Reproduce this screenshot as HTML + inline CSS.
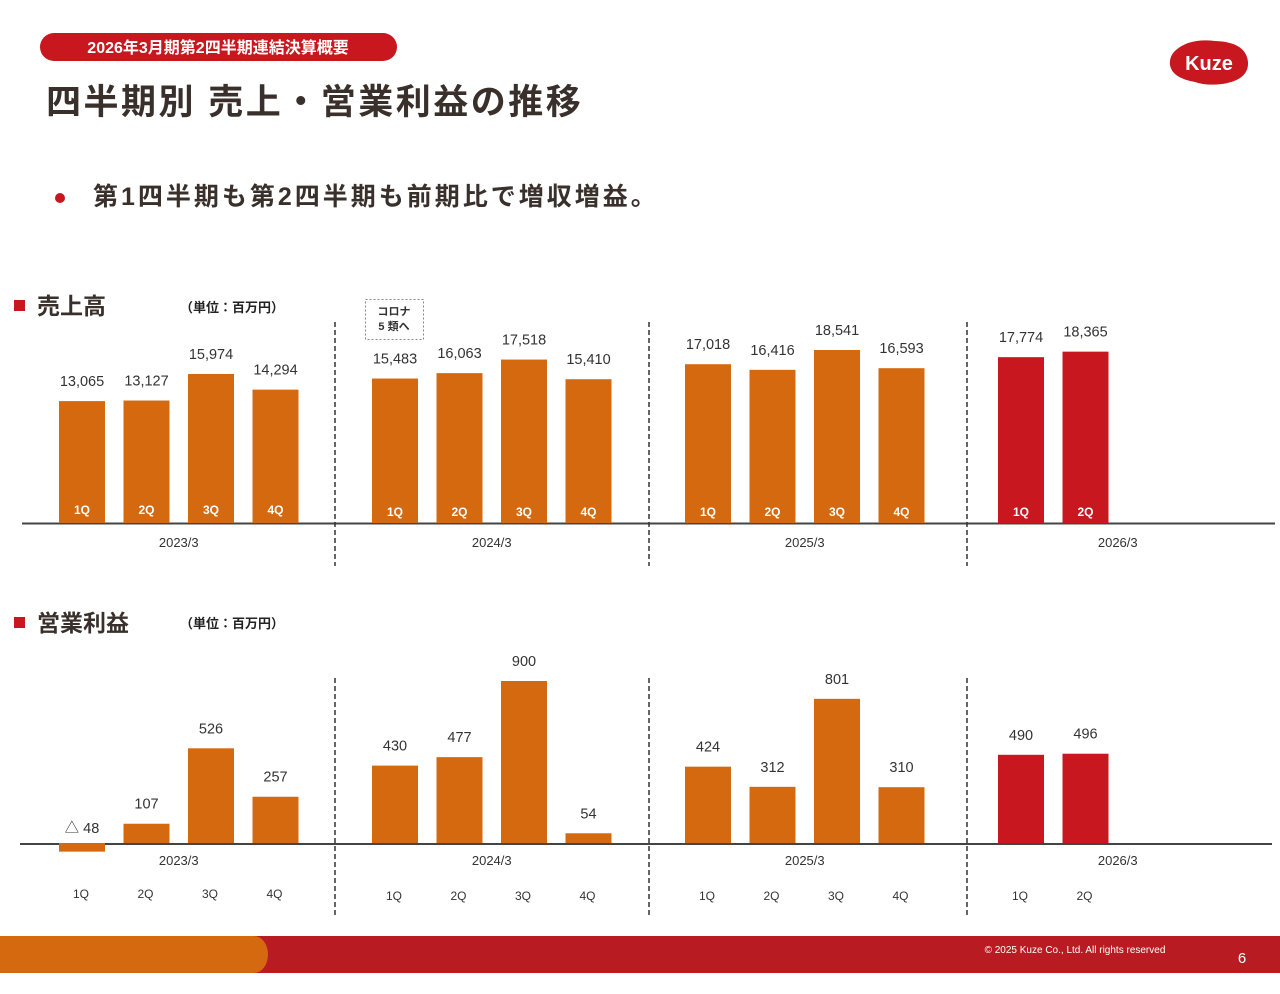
<!DOCTYPE html>
<html><head><meta charset="utf-8">
<style>
body{margin:0;width:1280px;height:989px;background:#fff;overflow:hidden;font-family:"Liberation Sans","Noto Sans CJK JP",sans-serif;}
svg text{font-family:"Liberation Sans","Noto Sans CJK JP",sans-serif;}
</style></head><body>
<svg width="1280" height="989" viewBox="0 0 1280 989">
<rect x="40" y="33" width="357" height="28" rx="14" fill="#c8171e"/>
<text x="218" y="53" font-size="16" font-weight="bold" fill="#fff" text-anchor="middle">2026年3月期第2四半期連結決算概要</text>
<text x="46" y="114" font-size="35" font-weight="bold" fill="#3a302b" letter-spacing="2.5">四半期別 売上・営業利益の推移</text>
<g>
<path d="M1176 50 Q1190 38 1215 41 Q1246 42 1248 62 Q1249 80 1222 84 Q1206 86 1195 82 Q1172 78 1170 65 Q1169 56 1176 50Z" fill="#c8171e"/>
<text x="1209" y="70" font-size="20" font-weight="bold" fill="#fff" text-anchor="middle">Kuze</text>
</g>
<circle cx="60" cy="198" r="5" fill="#c8171e"/>
<text x="93" y="205" font-size="25" font-weight="bold" fill="#3a302b" letter-spacing="3">第1四半期も第2四半期も前期比で増収増益。</text>

<rect x="14" y="300" width="11" height="11" fill="#c8171e"/>
<text x="37" y="314" font-size="23" font-weight="bold" fill="#3a302b">売上高</text>
<text x="180" y="312" font-size="13" font-weight="bold" fill="#222">（単位：百万円）</text>
<rect x="365.5" y="299.5" width="58" height="40" fill="none" stroke="#888" stroke-dasharray="2,2"/>
<text x="394" y="315" font-size="11" font-weight="bold" fill="#333" text-anchor="middle">コロナ</text>
<text x="394" y="330" font-size="11" font-weight="bold" fill="#333" text-anchor="middle">5 類へ</text>

<rect x="14" y="617" width="11" height="11" fill="#c8171e"/>
<text x="37" y="631" font-size="23" font-weight="bold" fill="#3a302b">営業利益</text>
<text x="180" y="628" font-size="13" font-weight="bold" fill="#222">（単位：百万円）</text>

<g id="charts"></g>

<rect x="0" y="936" width="1280" height="37" fill="#b81c22"/>
<path d="M0 936 H254 A14 18.5 0 0 1 254 973 H0Z" fill="#d4690f"/>
<text x="1075" y="953" font-size="10" fill="#fff" text-anchor="middle">© 2025 Kuze Co., Ltd. All rights reserved</text>
<text x="1242" y="963" font-size="15" fill="#fff" text-anchor="middle">6</text>
</svg>
<script>
const years=["2023/3","2024/3","2025/3","2026/3"];
const quarters=["1Q","2Q","3Q","4Q"];
const sales=[[13065,13127,15974,14294],[15483,16063,17518,15410],[17018,16416,18541,16593],[17774,18365]];
const profit=[[-48,107,526,257],[430,477,900,54],[424,312,801,310],[490,496]];
const NS="http://www.w3.org/2000/svg";
const g=document.getElementById('charts');
function xPos(y,q){return 82+y*313+q*64.5;}
function ySales(v){return 523-v*0.00933;}
function yProfit(v){return 843-v*0.18;}
function mk(t,a){const e=document.createElementNS(NS,t);for(const k in a)e.setAttribute(k,a[k]);g.appendChild(e);return e;}
function fmt(v){return v<0?"△ "+Math.abs(v):v.toLocaleString('en-US');}
let l=mk('line',{x1:22,y1:523.5,x2:1275,y2:523.5,stroke:'#444','stroke-width':2});


l=mk('line',{x1:20,y1:844,x2:1272,y2:844,stroke:'#444','stroke-width':2});


[335,649,967].forEach((x,i)=>{
 let d=mk('line',{x1:x,y1:322,x2:x,y2:566,stroke:'#333','stroke-width':1.5,'stroke-dasharray':'5,3'});
 
 
 d=mk('line',{x1:x,y1:678,x2:x,y2:917,stroke:'#333','stroke-width':1.5,'stroke-dasharray':'5,3'});
 
 
});
years.forEach((yr,y)=>{
 const cx=xPos(y,1.5);
 let t=mk('text',{x:cx,y:547,'font-size':13,fill:'#333','text-anchor':'middle'});t.textContent=yr;
 
 
 t=mk('text',{x:cx,y:865,'font-size':13,fill:'#333','text-anchor':'middle'});t.textContent=yr;
 
 
 const col=y===3?'#c8171e':'#d4690f';
 sales[y].forEach((v,q)=>{
  const x=xPos(y,q), top=ySales(v);
  let r=mk('rect',{x:x-23,y:top,width:46,height:523-top,fill:col});
  
  
  let tv=mk('text',{x:x,y:top-15,'font-size':14.5,fill:'#333','text-anchor':'middle'});tv.textContent=fmt(v);
  
  
  let tq=mk('text',{x:x,y:y===0?514:516,'font-size':12,'font-weight':'bold',fill:'#fff','text-anchor':'middle'});tq.textContent=quarters[q];
  
  
 });
 profit[y].forEach((v,q)=>{
  const x=xPos(y,q), yv=yProfit(v), top=Math.min(yv,843), h=Math.abs(yv-843);
  let r=mk('rect',{x:x-23,y:top,width:46,height:h,fill:col});
  
  
  let tv=mk('text',{x:x,y:v<0?833:top-15,'font-size':14.5,fill:'#333','text-anchor':'middle'});tv.textContent=fmt(v);
  
  
  let tq=mk('text',{x:x-1,y:y===0?898:900,'font-size':12,fill:'#333','text-anchor':'middle'});tq.textContent=quarters[q];
  
  
 });
});
</script>
</body></html>
